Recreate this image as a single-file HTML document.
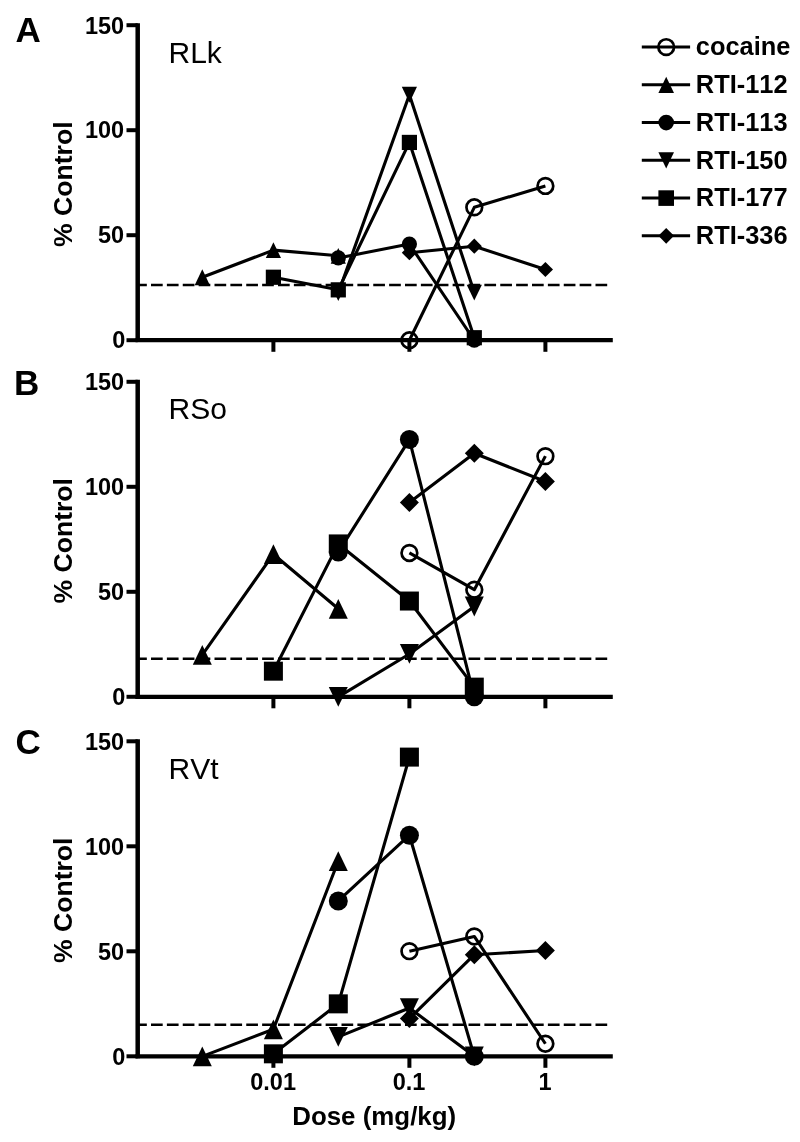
<!DOCTYPE html>
<html><head><meta charset="utf-8"><title>Figure</title>
<style>
html,body{margin:0;padding:0;background:#fff;}
svg{display:block;filter:blur(0.45px);}
text{font-family:"Liberation Sans",Arial,Helvetica,sans-serif;fill:#000;font-kerning:none;}
.b{font-weight:bold;}
.tk{font-weight:bold;font-size:23.5px;}
.ax{font-weight:bold;font-size:26.6px;}
.lg{font-weight:bold;font-size:25.4px;}
.pl{font-weight:bold;font-size:35px;}
.tt{font-size:30px;}
.ln{fill:none;stroke:#000;stroke-width:3.1;stroke-linejoin:round;}
</style></head><body>
<svg width="800" height="1142" viewBox="0 0 800 1142">
<rect width="800" height="1142" fill="#fff"/>
<g>
<text class="pl" x="15.6" y="42.1">A</text>
<text class="tt" x="168.5" y="62.8">RLk</text>
<text class="ax" transform="translate(71.5,184.2) rotate(-90)" text-anchor="middle">% Control</text>
<path d="M137.7 23.2V342.1" stroke="#000" stroke-width="4.5" fill="none"/>
<path d="M135.5 340.2H612.8" stroke="#000" stroke-width="4.3" fill="none"/>
<path d="M126.5 340.2H137.7" stroke="#000" stroke-width="4" fill="none"/>
<text class="tk" x="125.3" y="348.4" text-anchor="end">0</text>
<path d="M126.5 235.2H137.7" stroke="#000" stroke-width="4" fill="none"/>
<text class="tk" x="124.2" y="243.4" text-anchor="end">50</text>
<path d="M126.5 130.2H137.7" stroke="#000" stroke-width="4" fill="none"/>
<text class="tk" x="124.2" y="138.4" text-anchor="end">100</text>
<path d="M126.5 25.2H137.7" stroke="#000" stroke-width="4" fill="none"/>
<text class="tk" x="124.2" y="33.5" text-anchor="end">150</text>
<path d="M273.4 340.2V351.8" stroke="#000" stroke-width="4" fill="none"/>
<path d="M409.4 340.2V351.8" stroke="#000" stroke-width="4" fill="none"/>
<path d="M545.4 340.2V351.8" stroke="#000" stroke-width="4" fill="none"/>
<path d="M137.7 285.0H607.3" stroke="#000" stroke-width="2.6" stroke-dasharray="11.7 4.175" stroke-dashoffset="2.575" fill="none"/>
<polyline class="ln" points="409.40,340.25 474.29,207.32 545.40,185.90"/>
<polyline class="ln" points="202.29,277.25 273.40,250.16 338.29,255.83"/>
<polyline class="ln" points="338.29,257.93 409.40,244.07 474.29,340.25"/>
<polyline class="ln" points="338.29,293.00 409.40,94.76 474.29,292.58"/>
<polyline class="ln" points="273.40,277.25 338.29,289.85 409.40,142.43 474.29,337.73"/>
<polyline class="ln" points="409.40,252.68 474.29,246.17 545.40,269.48"/>
<circle cx="409.40" cy="340.25" r="7.85" fill="none" stroke="#000" stroke-width="2.7"/>
<circle cx="474.29" cy="207.32" r="7.85" fill="none" stroke="#000" stroke-width="2.7"/>
<circle cx="545.40" cy="185.90" r="7.85" fill="none" stroke="#000" stroke-width="2.7"/>
<polygon points="194.69,285.15 209.89,285.15 202.29,269.35"/>
<polygon points="265.80,258.06 281.00,258.06 273.40,242.26"/>
<polygon points="330.69,263.73 345.89,263.73 338.29,247.93"/>
<circle cx="338.29" cy="257.93" r="7.60"/>
<circle cx="409.40" cy="244.07" r="7.60"/>
<circle cx="474.29" cy="340.25" r="7.60"/>
<polygon points="330.69,285.10 345.89,285.10 338.29,300.90"/>
<polygon points="401.80,86.86 417.00,86.86 409.40,102.66"/>
<polygon points="466.69,284.68 481.89,284.68 474.29,300.48"/>
<rect x="265.80" y="269.65" width="15.20" height="15.20"/>
<rect x="330.69" y="282.25" width="15.20" height="15.20"/>
<rect x="401.80" y="134.83" width="15.20" height="15.20"/>
<rect x="466.69" y="330.13" width="15.20" height="15.20"/>
<polygon points="401.80,252.68 409.40,245.08 417.00,252.68 409.40,260.28"/>
<polygon points="466.69,246.17 474.29,238.57 481.89,246.17 474.29,253.77"/>
<polygon points="537.80,269.48 545.40,261.88 553.00,269.48 545.40,277.08"/>
</g>
<g>
<text class="pl" x="14.1" y="394.7">B</text>
<text class="tt" x="168.5" y="419.3">RSo</text>
<text class="ax" transform="translate(71.5,540.8) rotate(-90)" text-anchor="middle">% Control</text>
<path d="M137.7 379.8V698.7" stroke="#000" stroke-width="4.5" fill="none"/>
<path d="M135.5 696.8H612.8" stroke="#000" stroke-width="4.3" fill="none"/>
<path d="M126.5 696.8H137.7" stroke="#000" stroke-width="4" fill="none"/>
<text class="tk" x="125.3" y="705.0" text-anchor="end">0</text>
<path d="M126.5 591.8H137.7" stroke="#000" stroke-width="4" fill="none"/>
<text class="tk" x="124.2" y="600.0" text-anchor="end">50</text>
<path d="M126.5 486.8H137.7" stroke="#000" stroke-width="4" fill="none"/>
<text class="tk" x="124.2" y="495.0" text-anchor="end">100</text>
<path d="M126.5 381.8H137.7" stroke="#000" stroke-width="4" fill="none"/>
<text class="tk" x="124.2" y="390.0" text-anchor="end">150</text>
<path d="M273.4 696.8V708.3" stroke="#000" stroke-width="4" fill="none"/>
<path d="M409.4 696.8V708.3" stroke="#000" stroke-width="4" fill="none"/>
<path d="M545.4 696.8V708.3" stroke="#000" stroke-width="4" fill="none"/>
<path d="M137.7 658.8H607.3" stroke="#000" stroke-width="2.6" stroke-dasharray="11.7 4.175" stroke-dashoffset="2.575" fill="none"/>
<polyline class="ln" points="409.40,552.95 474.29,589.70 545.40,456.14"/>
<polyline class="ln" points="202.29,654.80 273.40,554.21 338.29,608.81"/>
<polyline class="ln" points="338.29,552.11 409.40,439.55 474.29,696.80"/>
<polyline class="ln" points="338.29,696.80 409.40,653.96 474.29,606.50"/>
<polyline class="ln" points="273.40,671.18 338.29,543.92 409.40,601.04 474.29,687.14"/>
<polyline class="ln" points="409.40,502.55 474.29,453.20 545.40,481.55"/>
<circle cx="409.40" cy="552.95" r="7.85" fill="none" stroke="#000" stroke-width="2.7"/>
<circle cx="474.29" cy="589.70" r="7.85" fill="none" stroke="#000" stroke-width="2.7"/>
<circle cx="545.40" cy="456.14" r="7.85" fill="none" stroke="#000" stroke-width="2.7"/>
<polygon points="192.79,664.68 211.79,664.68 202.29,644.92"/>
<polygon points="263.90,564.09 282.90,564.09 273.40,544.33"/>
<polygon points="328.79,618.69 347.79,618.69 338.29,598.93"/>
<circle cx="338.29" cy="552.11" r="9.50"/>
<circle cx="409.40" cy="439.55" r="9.50"/>
<circle cx="474.29" cy="696.80" r="9.50"/>
<polygon points="328.79,686.92 347.79,686.92 338.29,706.68"/>
<polygon points="399.90,644.08 418.90,644.08 409.40,663.84"/>
<polygon points="464.79,596.62 483.79,596.62 474.29,616.38"/>
<rect x="263.90" y="661.68" width="19.00" height="19.00"/>
<rect x="328.79" y="534.42" width="19.00" height="19.00"/>
<rect x="399.90" y="591.54" width="19.00" height="19.00"/>
<rect x="464.79" y="677.64" width="19.00" height="19.00"/>
<polygon points="399.90,502.55 409.40,493.05 418.90,502.55 409.40,512.05"/>
<polygon points="464.79,453.20 474.29,443.70 483.79,453.20 474.29,462.70"/>
<polygon points="535.90,481.55 545.40,472.05 554.90,481.55 545.40,491.05"/>
</g>
<g>
<text class="pl" x="15.6" y="753.5">C</text>
<text class="tt" x="168.5" y="778.8">RVt</text>
<text class="ax" transform="translate(71.5,900.3) rotate(-90)" text-anchor="middle">% Control</text>
<path d="M137.7 739.3V1058.2" stroke="#000" stroke-width="4.5" fill="none"/>
<path d="M135.5 1056.3H612.8" stroke="#000" stroke-width="4.3" fill="none"/>
<path d="M126.5 1056.3H137.7" stroke="#000" stroke-width="4" fill="none"/>
<text class="tk" x="125.3" y="1064.5" text-anchor="end">0</text>
<path d="M126.5 951.3H137.7" stroke="#000" stroke-width="4" fill="none"/>
<text class="tk" x="124.2" y="959.5" text-anchor="end">50</text>
<path d="M126.5 846.3H137.7" stroke="#000" stroke-width="4" fill="none"/>
<text class="tk" x="124.2" y="854.5" text-anchor="end">100</text>
<path d="M126.5 741.3H137.7" stroke="#000" stroke-width="4" fill="none"/>
<text class="tk" x="124.2" y="749.5" text-anchor="end">150</text>
<path d="M273.4 1056.3V1067.8" stroke="#000" stroke-width="4" fill="none"/>
<path d="M409.4 1056.3V1067.8" stroke="#000" stroke-width="4" fill="none"/>
<path d="M545.4 1056.3V1067.8" stroke="#000" stroke-width="4" fill="none"/>
<path d="M137.7 1024.8H607.3" stroke="#000" stroke-width="2.6" stroke-dasharray="11.7 4.175" stroke-dashoffset="2.575" fill="none"/>
<polyline class="ln" points="409.40,951.14 474.29,936.44 545.40,1043.75"/>
<polyline class="ln" points="202.29,1056.35 273.40,1029.26 338.29,861.05"/>
<polyline class="ln" points="338.29,900.95 409.40,835.22 474.29,1056.35"/>
<polyline class="ln" points="338.29,1036.82 409.40,1008.05 474.29,1056.35"/>
<polyline class="ln" points="273.40,1053.83 338.29,1003.85 409.40,757.10"/>
<polyline class="ln" points="409.40,1018.55 474.29,954.71 545.40,950.51"/>
<circle cx="409.40" cy="951.14" r="7.85" fill="none" stroke="#000" stroke-width="2.7"/>
<circle cx="474.29" cy="936.44" r="7.85" fill="none" stroke="#000" stroke-width="2.7"/>
<circle cx="545.40" cy="1043.75" r="7.85" fill="none" stroke="#000" stroke-width="2.7"/>
<polygon points="192.79,1066.23 211.79,1066.23 202.29,1046.47"/>
<polygon points="263.90,1039.14 282.90,1039.14 273.40,1019.38"/>
<polygon points="328.79,870.93 347.79,870.93 338.29,851.17"/>
<circle cx="338.29" cy="900.95" r="9.50"/>
<circle cx="409.40" cy="835.22" r="9.50"/>
<circle cx="474.29" cy="1056.35" r="9.50"/>
<polygon points="328.79,1026.94 347.79,1026.94 338.29,1046.70"/>
<polygon points="399.90,998.17 418.90,998.17 409.40,1017.93"/>
<polygon points="464.79,1046.47 483.79,1046.47 474.29,1066.23"/>
<rect x="263.90" y="1044.33" width="19.00" height="19.00"/>
<rect x="328.79" y="994.35" width="19.00" height="19.00"/>
<rect x="399.90" y="747.60" width="19.00" height="19.00"/>
<polygon points="399.90,1018.55 409.40,1009.05 418.90,1018.55 409.40,1028.05"/>
<polygon points="464.79,954.71 474.29,945.21 483.79,954.71 474.29,964.21"/>
<polygon points="535.90,950.51 545.40,941.01 554.90,950.51 545.40,960.01"/>
</g>
<text class="tk" x="273.1" y="1090" text-anchor="middle">0.01</text>
<text class="tk" x="409.1" y="1090" text-anchor="middle">0.1</text>
<text class="tk" x="545.1" y="1090" text-anchor="middle">1</text>
<text class="ax" style="font-size:25.9px" x="374.2" y="1125.3" text-anchor="middle">Dose (mg/kg)</text>
<path d="M641.8 47.10H690.1" stroke="#000" stroke-width="3" fill="none"/>
<circle cx="666.20" cy="47.10" r="7.85" fill="none" stroke="#000" stroke-width="2.7"/>
<text class="lg" x="695.8" y="55.30">cocaine</text>
<path d="M641.8 84.85H690.1" stroke="#000" stroke-width="3" fill="none"/>
<polygon points="658.40,92.96 674.00,92.96 666.20,76.74"/>
<text class="lg" x="695.8" y="93.05">RTI-112</text>
<path d="M641.8 122.60H690.1" stroke="#000" stroke-width="3" fill="none"/>
<circle cx="666.20" cy="122.60" r="7.80"/>
<text class="lg" x="695.8" y="130.80">RTI-113</text>
<path d="M641.8 160.35H690.1" stroke="#000" stroke-width="3" fill="none"/>
<polygon points="658.40,152.24 674.00,152.24 666.20,168.46"/>
<text class="lg" x="695.8" y="168.55">RTI-150</text>
<path d="M641.8 198.10H690.1" stroke="#000" stroke-width="3" fill="none"/>
<rect x="658.40" y="190.30" width="15.60" height="15.60"/>
<text class="lg" x="695.8" y="206.30">RTI-177</text>
<path d="M641.8 235.85H690.1" stroke="#000" stroke-width="3" fill="none"/>
<polygon points="658.40,235.85 666.20,228.05 674.00,235.85 666.20,243.65"/>
<text class="lg" x="695.8" y="244.05">RTI-336</text>
</svg></body></html>
